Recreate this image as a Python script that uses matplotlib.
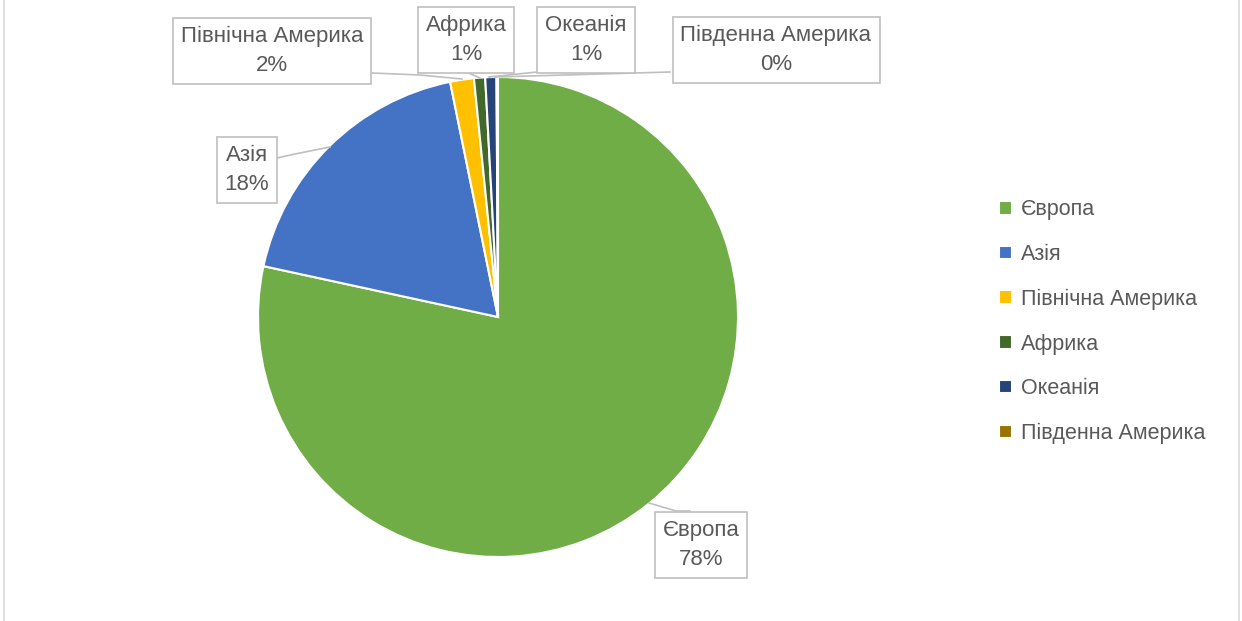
import matplotlib.pyplot as plt
from matplotlib.lines import Line2D

# data
regions = ['Європа', 'Азія', 'Північна Америка', 'Африка', 'Океанія', 'Південна Америка']
shares = [78.4, 18.4, 1.6, 0.75, 0.75, 0.1]
colors = ['#70AD47', '#4472C4', '#FFC000', '#43682B', '#264478', '#997300']

W, H = 1242, 621
txt_col = '#595959'
plt.rcParams['font.family'] = ['Liberation Sans', 'DejaVu Sans']

fig = plt.figure(figsize=(W / 100, H / 100), dpi=100)
ax = fig.add_axes([0, 0, 1, 1])

def py(y):
    # pixel row -> data y
    return H - y

cx, cy, r = 498, py(317), 240
wedges, _ = ax.pie(shares, colors=colors, startangle=90, counterclock=False,
                   center=(cx, cy), radius=r,
                   wedgeprops=dict(edgecolor='white', linewidth=1.5))

ax.set_xlim(0, W)
ax.set_ylim(0, H)
ax.set_aspect('equal')
ax.axis('off')

# label boxes: (text x, text y, leader line points)
labels = {
    'Європа': (701, 545, [(649, 503), (676, 511), (690, 511)]),
    'Азія': (247, 170, [(330, 147), (295, 154), (277, 158)]),
    'Північна Америка': (272, 51, [(462, 79), (420, 75), (372, 73)]),
    'Африка': (466, 40, [(480, 78), (466, 72)]),
    'Океанія': (586, 40, [(489, 77), (537, 72)]),
    'Південна Америка': (776, 50, [(495, 77), (670, 72)]),
}
for name, p in zip(regions, shares):
    tx, ty, pts = labels[name]
    xs = [q[0] for q in pts]
    ys = [py(q[1]) for q in pts]
    ax.plot(xs, ys, color='#BFBFBF', lw=1.2, zorder=3)
    ax.text(tx, py(ty), f'{name}\n{p:.0f}%', ha='center', va='center',
            fontsize=16, color=txt_col, linespacing=1.45, zorder=4,
            bbox=dict(boxstyle='square,pad=0.36', fc='white', ec='#BFBFBF', lw=1.2))

leg = ax.legend(wedges, regions, loc='upper left', bbox_to_anchor=(980 / W, 1 - 180 / H),
                frameon=False, fontsize=15.5, handlelength=0.6, handleheight=0.6,
                handletextpad=0.4, labelspacing=1.1)
for t in leg.get_texts():
    t.set_color(txt_col)

# chart border
fig.add_artist(Line2D([4 / W, 4 / W], [0, 1], color='#D9D9D9', lw=1.2))
fig.add_artist(Line2D([1239 / W, 1239 / W], [0, 1], color='#D9D9D9', lw=1.2))

fig.savefig('out.png', dpi=100)
